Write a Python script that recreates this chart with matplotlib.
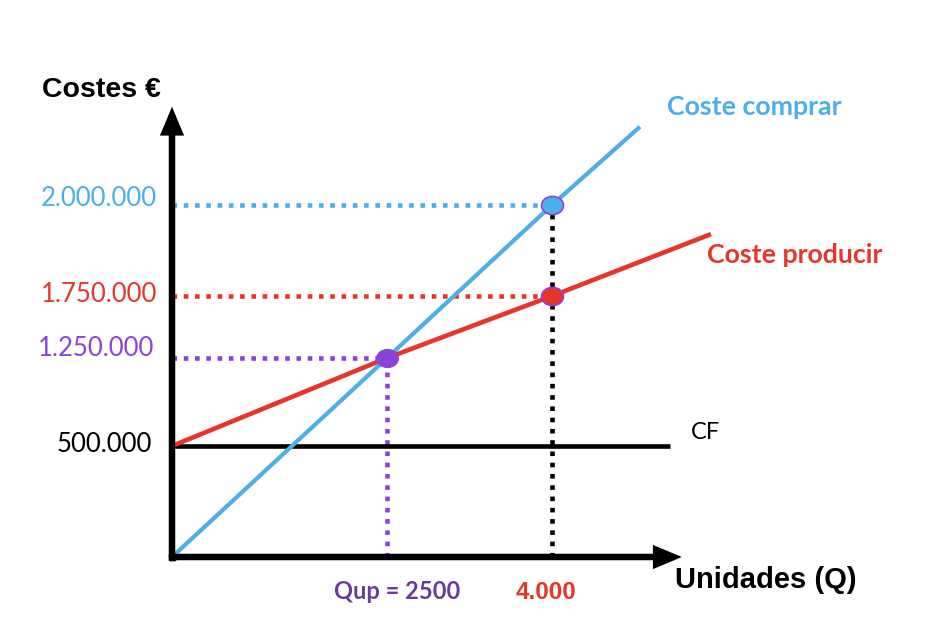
import numpy as np
import matplotlib
matplotlib.use("Agg")
import matplotlib.pyplot as plt
from matplotlib.path import Path
from matplotlib.transforms import Affine2D

# ---------------- data ----------------
q_ticks = [2500, 4000]
q_tick_labels = ["Qup = 2500", "4.000"]
cost_ticks = [2000000, 1750000, 1250000, 500000]
cost_tick_labels = ["2.000.000", "1.750.000", "1.250.000", "500.000"]

q_comprar = [0, 2500, 4000, 4800]
coste_comprar = [0, 1250000, 2000000, 2215000]

q_producir = [0, 2500, 4000, 5445]
coste_producir = [500000, 1250000, 1750000, 1920000]

q_cf = [0, 5070]
coste_cf = [500000, 500000]

q_equilibrio = 2500
coste_equilibrio = 1250000
q_punto = 4000

q_axis_max = 5180
cost_axis_max = 2270000

# ---------------- style ----------------
BLUE = "#4BAFE9"
RED = "#E8352A"
PURPLE = "#8A42D9"
DPURPLE = "#6A3A9C"
BLACK = "#000000"

W, H = 938, 630
DPI = 100
PX = 72.0 / DPI  # points per pixel

# schematic (non-linear) axes: piecewise-linear scales anchored at labelled values
x_anchor_data = [0, 2500, 4000]
x_anchor_px = [172, 387, 552]
y_anchor_data = [0, 500000, 1250000, 1750000, 2000000]
y_anchor_px = [H - 557, H - 446, H - 358, H - 296, H - 205]


def piecewise(xs, ys):
    xs = np.asarray(xs, float)
    ys = np.asarray(ys, float)

    def f(v):
        v = np.asarray(v, float)
        out = np.interp(v, xs, ys)
        lo_s = (ys[1] - ys[0]) / (xs[1] - xs[0])
        hi_s = (ys[-1] - ys[-2]) / (xs[-1] - xs[-2])
        out = np.where(v < xs[0], ys[0] + (v - xs[0]) * lo_s, out)
        out = np.where(v > xs[-1], ys[-1] + (v - xs[-1]) * hi_s, out)
        return out

    return f


fx, ifx = piecewise(x_anchor_data, x_anchor_px), piecewise(x_anchor_px, x_anchor_data)
fy, ify = piecewise(y_anchor_data, y_anchor_px), piecewise(y_anchor_px, y_anchor_data)

fig = plt.figure(figsize=(W / DPI, H / DPI), dpi=DPI)
ax = fig.add_axes([0, 0, 1, 1])
ax.set_xscale("function", functions=(fx, ifx))
ax.set_yscale("function", functions=(fy, ify))
ax.set_xlim(float(ifx(0)), float(ifx(W)))
ax.set_ylim(float(ify(0)), float(ify(H)))
ax.axis("off")

# ellipse marker
ell = Path.unit_circle().transformed(Affine2D().scale(1.0, 0.83))

dot_lw = 4.6 * PX
dots = (0, (1.0, 1.45))

# dotted guides
ax.plot([0, q_punto], [coste_comprar[2]] * 2, color=BLUE, lw=dot_lw, ls=dots,
        dash_capstyle="butt", zorder=2)
ax.plot([0, q_punto], [coste_producir[2]] * 2, color=RED, lw=dot_lw, ls=dots,
        dash_capstyle="butt", zorder=2)
ax.plot([0, q_equilibrio], [coste_equilibrio] * 2, color=PURPLE, lw=dot_lw, ls=dots,
        dash_capstyle="butt", zorder=2)
ax.plot([q_equilibrio, q_equilibrio], [0, coste_equilibrio], color=PURPLE, lw=dot_lw,
        ls=dots, dash_capstyle="butt", zorder=2)
ax.plot([q_punto, q_punto], [0, coste_comprar[2]], color=BLACK, lw=dot_lw, ls=dots,
        dash_capstyle="butt", zorder=2)

# cost lines
ax.plot(q_cf, coste_cf, color=BLACK, lw=4.6 * PX, solid_capstyle="butt", zorder=3)
ax.plot(q_producir, coste_producir, color=RED, lw=4.6 * PX, solid_capstyle="butt", zorder=4)
ax.plot(q_comprar, coste_comprar, color=BLUE, lw=4.2 * PX, solid_capstyle="butt", zorder=4)

# markers
ms = 22 * PX
ax.plot([q_punto], [coste_comprar[2]], marker=ell, ms=ms, color=BLUE, mec=PURPLE,
        mew=1.6 * PX, ls="none", zorder=6)
ax.plot([q_punto], [coste_producir[2]], marker=ell, ms=ms, color=RED, mec=PURPLE,
        mew=1.6 * PX, ls="none", zorder=6)
ax.plot([q_equilibrio], [coste_equilibrio], marker=ell, ms=ms, color=PURPLE, mec=PURPLE,
        mew=1.0 * PX, ls="none", zorder=6)

# axes with arrows
arrow = dict(arrowstyle="-|>,head_length=0.62,head_width=0.26", mutation_scale=20,
             lw=6.5 * PX, color=BLACK, shrinkA=0, shrinkB=0, capstyle="butt",
             joinstyle="miter")
ax.annotate("", xy=(0, cost_axis_max), xytext=(0, 0), arrowprops=arrow, zorder=5)
ax.annotate("", xy=(q_axis_max, 0), xytext=(0, 0), arrowprops=arrow, zorder=5)
ax.plot([0, 0], [0, 0], marker="s", ms=6.5 * PX, color=BLACK, zorder=5)

# tick labels (y)
ycolors = [BLUE, RED, PURPLE, BLACK]
yoffs = [6, 2, 9, 2]
xoffs = [-15, -15, -18, -20]
for val, lab, c, dy, dx in zip(cost_ticks, cost_tick_labels, ycolors, yoffs, xoffs):
    ax.annotate(lab, xy=(0, val), xytext=(dx * PX, dy * PX), textcoords="offset points",
                ha="right", va="center", color=c, fontsize=18.5, family="Lato")

# tick labels (x)
xcolors = [DPURPLE, RED]
xfam = ["Lato", "Liberation Sans"]
xsize = [17, 17.5]
xdx = [10, -6]
for val, lab, c, fam, fs, dx in zip(q_ticks, q_tick_labels, xcolors, xfam, xsize, xdx):
    ax.annotate(lab, xy=(val, 0), xytext=(dx * PX, -42 * PX), textcoords="offset points",
                ha="center", va="baseline", color=c, fontsize=fs, family=fam,
                fontweight="bold")

# titles / line labels
ax.annotate("Costes €", xy=(0, 0), xycoords="figure pixels", xytext=(42, H - 97),
            textcoords="figure pixels", ha="left", va="baseline", fontsize=20.5,
            family="Liberation Sans", fontweight="bold", color=BLACK)
ax.annotate("Unidades (Q)", xy=(0, 0), xycoords="figure pixels", xytext=(675, H - 588),
            textcoords="figure pixels", ha="left", va="baseline", fontsize=21,
            family="Liberation Sans", fontweight="bold", color=BLACK)
ax.annotate("Coste comprar", xy=(0, 0), xycoords="figure pixels", xytext=(667, H - 115),
            textcoords="figure pixels", ha="left", va="baseline", fontsize=19.3,
            family="Lato", fontweight="bold", color=BLUE)
ax.annotate("Coste producir", xy=(0, 0), xycoords="figure pixels", xytext=(707, H - 263),
            textcoords="figure pixels", ha="left", va="baseline", fontsize=19.3,
            family="Lato", fontweight="bold", color=RED)
ax.annotate("CF", xy=(0, 0), xycoords="figure pixels", xytext=(691, H - 439),
            textcoords="figure pixels", ha="left", va="baseline", fontsize=17,
            family="Lato", color=BLACK)

fig.savefig("out.png", dpi=DPI, facecolor="white")
